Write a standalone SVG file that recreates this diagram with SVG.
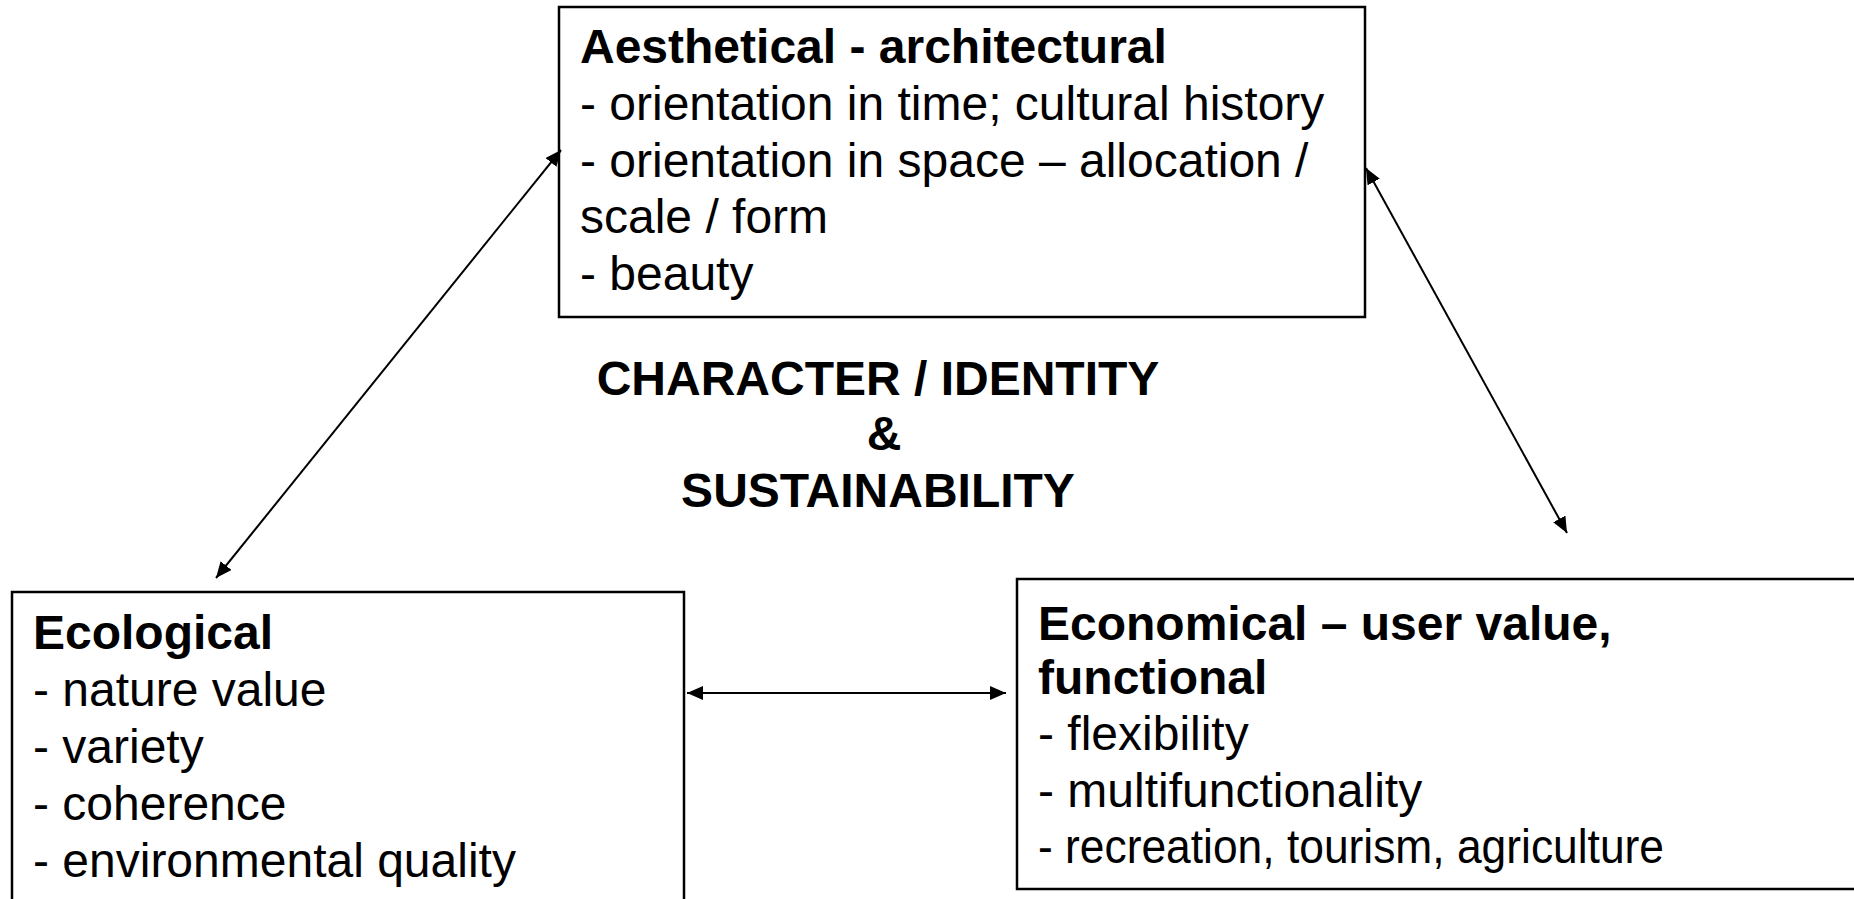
<svg xmlns="http://www.w3.org/2000/svg" width="1854" height="899" viewBox="0 0 1854 899">
  <defs>
    <style>
      .box { fill: #ffffff; stroke: #000000; stroke-width: 2.5; }
      .txt { font-family: "Liberation Sans", Arial, sans-serif; font-size: 48px; fill: #000000; }
      .bold { font-weight: bold; }
      .link { stroke: #000000; stroke-width: 2; fill: none; marker-start: url(#head); marker-end: url(#head); }
    </style>
    <marker id="head" viewBox="0 0 16 14" refX="16" refY="7" markerWidth="16" markerHeight="14" markerUnits="userSpaceOnUse" orient="auto-start-reverse">
      <path d="M0,0 L16,7 L0,14 Z" fill="#000000"/>
    </marker>
  </defs>
  <rect width="1854" height="899" fill="#ffffff"/>

  <!-- aesthetic / architectural values -->
  <g id="aesthetical">
    <rect class="box" x="559" y="7" width="806" height="310"/>
    <text class="txt bold" x="580" y="63">Aesthetical - architectural</text>
    <text class="txt" x="580" y="120">- orientation in time; cultural history</text>
    <text class="txt" x="580" y="177">- orientation in space – allocation /</text>
    <text class="txt" x="580" y="233">scale / form</text>
    <text class="txt" x="580" y="290">- beauty</text>
  </g>

  <!-- ecological values -->
  <g id="ecological">
    <rect class="box" x="12" y="592" width="672" height="330"/>
    <text class="txt bold" x="33" y="649">Ecological</text>
    <text class="txt" x="33" y="706">- nature value</text>
    <text class="txt" x="33" y="763">- variety</text>
    <text class="txt" x="33" y="820">- coherence</text>
    <text class="txt" x="33" y="877">- environmental quality</text>
  </g>

  <!-- economic / functional values -->
  <g id="economical">
    <rect class="box" x="1017" y="579" width="860" height="310"/>
    <text class="txt bold" x="1038" y="640">Economical – user value,</text>
    <text class="txt bold" x="1038" y="694">functional</text>
    <text class="txt" x="1038" y="750">- flexibility</text>
    <text class="txt" x="1038" y="807">- multifunctionality</text>
    <text class="txt" x="1038" y="863" textLength="626" lengthAdjust="spacingAndGlyphs">- recreation, tourism, agriculture</text>
  </g>

  <!-- central theme -->
  <g id="centre" text-anchor="middle">
    <text class="txt bold" x="878" y="395">CHARACTER / IDENTITY</text>
    <text class="txt bold" x="884" y="450">&amp;</text>
    <text class="txt bold" x="878" y="507">SUSTAINABILITY</text>
  </g>

  <!-- two-way relations between the three value groups -->
  <g id="connectors">
    <line class="link" x1="216" y1="578" x2="561" y2="150"/>
    <line class="link" x1="1366" y1="168" x2="1567" y2="533"/>
    <line class="link" x1="687" y1="693" x2="1006" y2="693"/>
  </g>
</svg>
